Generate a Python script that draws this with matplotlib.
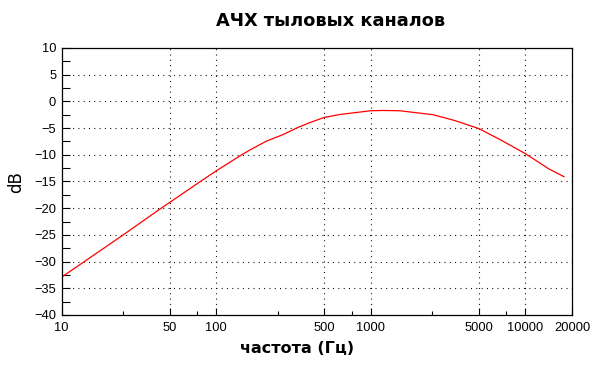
import matplotlib
matplotlib.use("Agg")
from matplotlib import pyplot as plt
from matplotlib.ticker import FixedLocator, NullFormatter

# frequency response
freq = [10, 25, 43, 78, 100, 146, 165, 211, 271, 330, 400, 500, 630, 1000,
        1200, 1537, 2535, 3500, 5000, 6800, 10000, 14100, 17740]
db = [-32.9, -25.0, -20.2, -15.1, -13.0, -10.0, -9.1, -7.44, -6.2, -5.0, -4.0,
      -3.0, -2.45, -1.75, -1.7, -1.75, -2.5, -3.6, -5.1, -7.1, -9.8, -12.6, -14.1]

xticks = [10, 50, 100, 500, 1000, 5000, 10000, 20000]
xminor = [25, 75, 250, 750, 2500, 7500]
yticks = list(range(-40, 11, 5))
yminor = [v + 2.5 for v in range(-40, 10, 5)]

plt.rcParams['lines.scale_dashes'] = False
plt.rcParams['axes.unicode_minus'] = True

fig = plt.figure(figsize=(6.08, 3.65), dpi=100)
ax = fig.add_axes([0.1015, 0.137, 0.8393, 0.7315])

ax.plot(freq, db, color='red', lw=0.9)

ax.set_xscale('log')
ax.set_xlim(10, 20000)
ax.set_ylim(-40, 10)

ax.xaxis.set_major_locator(FixedLocator(xticks))
ax.set_xticklabels([str(t) for t in xticks])
ax.xaxis.set_minor_locator(FixedLocator(xminor))
ax.xaxis.set_minor_formatter(NullFormatter())
ax.set_yticks(yticks)
ax.yaxis.set_minor_locator(FixedLocator(yminor))

ax.tick_params(axis='both', which='both', direction='in', color='black',
               labelsize=9.3, labelfontfamily='Liberation Sans')
ax.tick_params(axis='x', which='major', length=5, width=0.8, pad=5)
ax.tick_params(axis='x', which='minor', length=3, width=0.8)
ax.tick_params(axis='y', which='both', length=6, width=0.8, pad=4)

# dotted grid, not on the frame
dots = (0, (0.72, 3.1))
for x in [50, 100, 500, 1000, 5000, 10000]:
    ax.axvline(x, color='black', lw=0.8, ls=dots, zorder=0)
for y in range(-35, 10, 5):
    ax.axhline(y, color='black', lw=0.8, ls=dots, zorder=0)

for s in ax.spines.values():
    s.set_linewidth(0.9)

fig.text(0.543, 0.943, 'АЧХ тыловых каналов', ha='center', va='center',
         fontsize=12.8, fontweight='bold')
fig.text(0.489, 0.044, 'частота (Гц)', ha='center', va='center',
         fontsize=11.5, fontweight='bold')
fig.text(0.027, 0.50, 'dB', ha='center', va='center', rotation=90, fontsize=12)

fig.savefig('out.png', dpi=100)
